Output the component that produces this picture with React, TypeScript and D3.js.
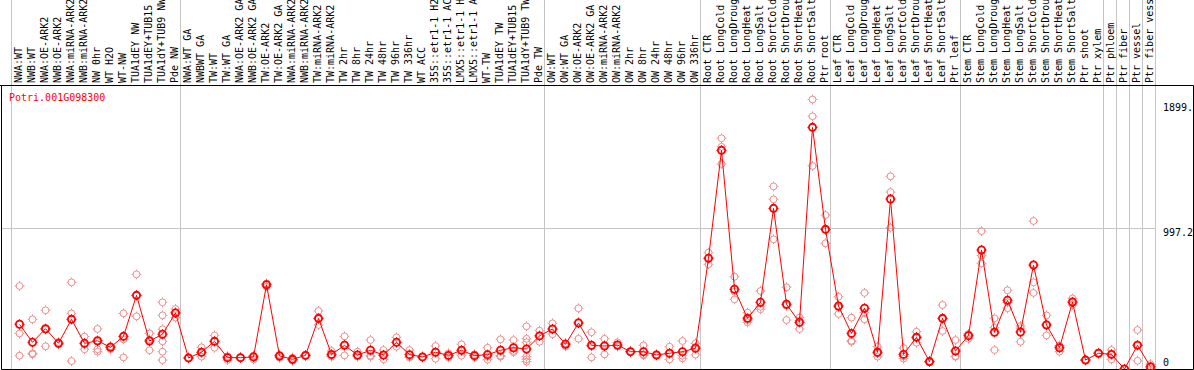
import React from "react";
import * as d3 from "d3";

const geneId = "Potri.001G098300";

// sample names, left to right (as far as they show in the header)
const samples = [
  "NWA:WT", "NWB:WT", "NWA:OE-ARK2", "NWB:OE-ARK2", "NWA:miRNA-ARK2", "NWB:miRNA-ARK2",
  "NW 0hr", "WT H2O", "WT-NW", "TUA1dEY NW", "TUA1dEY+TUB15", "TUA1dY+TUB9 NW", "Pde NW",
  "NWA:WT GA", "NWBWT GA", "TW:WT", "TW:WT GA", "NWA:OE-ARK2 GA", "NWB:OE-ARK2 GA",
  "TW:OE-ARK2", "TW:OE-ARK2 GA", "NWA:miRNA-ARK2", "NWB:miRNA-ARK2", "TW:miRNA-ARK2",
  "TW:miRNA-ARK2", "TW 2hr", "TW 8hr", "TW 24hr", "TW 48hr", "TW 96hr", "TW 336hr", "WT ACC",
  "35S::etr1-1 H2", "35S::etr1-1 AC", "LMX5::etr1-1 H", "LMX5::etr1-1 A", "WT-TW",
  "TUA1dEY TW", "TUA1dEY+TUB15", "TUA1dY+TUB9 TW", "Pde TW",
  "OW:WT", "OW:WT GA", "OW:OE-ARK2", "OW:OE-ARK2 GA", "OW:miRNA-ARK2", "OW:miRNA-ARK2",
  "OW 2hr", "OW 8hr", "OW 24hr", "OW 48hr", "OW 96hr", "OW 336hr",
  "Root CTR", "Root LongCold", "Root LongDroug", "Root LongHeat", "Root LongSalt",
  "Root ShortCold", "Root ShortDrou", "Root ShortHeat", "Root ShortSalt", "Ptr root",
  "Leaf CTR", "Leaf LongCold", "Leaf LongDroug", "Leaf LongHeat", "Leaf LongSalt",
  "Leaf ShortCold", "Leaf ShortDrou", "Leaf ShortHeat", "Leaf ShortSalt", "Ptr leaf",
  "Stem CTR", "Stem LongCold", "Stem LongDroug", "Stem LongHeat", "Stem LongSalt",
  "Stem ShortCold", "Stem ShortDrou", "Stem ShortHeat", "Stem ShortSalt", "Ptr shoot",
  "Ptr xylem", "Ptr phloem", "Ptr fiber", "Ptr vessel", "Ptr fiber vess",
];

// index of the first sample in each experiment block
const groupStarts = [0, 13, 41, 53, 63, 73, 84, 85, 86, 87];

// mean expression per sample
const means = [
  315, 188, 284, 181, 350, 181, 199, 153, 230, 519, 197, 245, 395,
  78, 118, 195, 80, 80, 85, 594, 92, 68, 96, 357, 103, 167, 99, 132, 99, 188, 101, 85, 118, 96,
  132, 94, 101, 132, 150, 141, 233,
  282, 174, 324, 167, 162, 169, 122, 122, 99, 111, 122, 146,
  780, 1541, 562, 357, 470, 1132, 456, 329, 1703, 984,
  444, 251, 428, 118, 1198, 103, 223, 52, 357, 127,
  235, 839, 259, 484, 261, 733, 310, 150, 472, 63, 111,
  103, 0, 167, 16,
];

// replicate values per sample
const replicates = [
  [585, 251, 94], [350, 111, 103], [414, 160, 278], [190, 175, 178], [611, 392, 56],
  [228, 139, 176], [282, 190, 139, 122], [160, 139, 160], [392, 209, 82], [667, 371, 519],
  [251, 132, 207], [470, 378, 280, 195, 122, 63], [423, 362, 400],
  [78, 75, 82], [153, 87, 115], [237, 150, 198], [63, 90, 85], [80, 78, 82], [68, 90, 95],
  [580, 600, 602], [100, 80, 95], [80, 58, 66], [96, 92, 100], [409, 310, 352], [127, 87, 95],
  [230, 96, 175], [122, 87, 90], [204, 94, 87], [134, 68, 95], [223, 157, 185], [134, 82, 88],
  [85, 82, 88], [162, 73, 119], [111, 82, 95], [174, 94, 128], [104, 82, 96], [150, 87, 66],
  [209, 94, 87], [204, 118, 128], [301, 213, 188, 87, 68, 52], [270, 192, 237],
  [322, 245, 279], [160, 180, 182], [428, 213, 331], [259, 82, 160], [213, 103, 170],
  [188, 160, 159], [122, 118, 126], [167, 96, 103], [99, 95, 103], [157, 68, 108],
  [197, 94, 75], [181, 101, 156],
  [820, 738, 782], [1626, 1566, 1445], [650, 491, 545], [397, 329, 345], [550, 421, 439],
  [1287, 1196, 914], [576, 345, 447], [362, 282, 343], [1899.4, 1781, 1431], [1085, 886, 981],
  [509, 388, 435], [362, 199, 192], [536, 350, 398], [157, 87, 110], [1358, 1247, 996],
  [148, 73, 88], [263, 185, 221], [52, 48, 56], [451, 268, 352], [204, 87, 90],
  [213, 245, 247], [972, 799, 745], [357, 291, 134], [555, 428, 469], [303, 192, 288],
  [1043, 611, 536], [378, 237, 315], [122, 165, 163], [498, 451, 467], [63, 60, 66],
  [111, 108, 114],
  [134, 68, 107], [0, 0, 0], [275, 58, 168], [35, 8, 5],
];

const font = "'DejaVu Sans Mono', monospace";

// little GD-style circle with four pixel spikes
const Marker = ({ cx, cy, r, color, sw }: { cx: number; cy: number; r: number; color: string; sw: number }) => (
  <g>
    <circle cx={cx} cy={cy} r={r} fill="none" stroke={color} strokeWidth={sw} />
    <path
      d={`M${cx},${cy - r - 1.5}V${cy - r}M${cx},${cy + r}V${cy + r + 1.5}M${cx - r - 1.5},${cy}H${cx - r}M${cx + r},${cy}H${cx + r + 1.5}`}
      stroke={color}
      strokeWidth={1}
    />
  </g>
);

export default function App() {
  const width = 1194;
  const height = 370;
  const headerBottom = 85;
  const plotTop = 86;
  const plotBottom = 369;

  const x = d3.scaleLinear().domain([0, 1]).range([19.5, 32.5]);
  const maxVal = d3.max(replicates.flat()) as number;
  const y = d3.scaleLinear().domain([0, maxVal * 1.05]).range([plotBottom, plotTop]);
  const plotRight = x(samples.length) - 8;
  const yTicks = [maxVal, y.domain()[1] / 2, 0];

  const line = d3
    .line<number>()
    .x((_, i) => x(i))
    .y((d) => y(d));

  const vLines = [...groupStarts, samples.length].map((s) => x(s) - 8);

  return (
    <svg
      width={width}
      height={height}
      style={{ position: "absolute", left: 0, top: 0, background: "#fff" }}
      fontFamily={font}
      fontSize={10}
    >
      <rect width={width} height={height} fill="#fff" />
      {/* grid */}
      {vLines.map((lx, i) => (
        <line key={i} x1={lx} x2={lx} y1={0} y2={plotBottom} stroke="#c4c4c4" />
      ))}
      <line
        x1={1}
        x2={plotRight}
        y1={Math.round(y(yTicks[1])) + 0.5}
        y2={Math.round(y(yTicks[1])) + 0.5}
        stroke="#c4c4c4"
      />
      {/* frame */}
      <path
        d={`M0,${headerBottom + 0.5}H${width - 0.5}V${plotBottom + 0.5}H1.5V${headerBottom + 0.5}`}
        fill="none"
        stroke="#000"
      />
      {/* sample names */}
      {samples.map((s, i) => (
        <text key={s + i} transform={`translate(${x(i) + 2.5},${headerBottom - 2}) rotate(-90)`} fill="#000">
          {s}
        </text>
      ))}
      <text x={9} y={100.5} fill="#ff0000">
        {geneId}
      </text>
      {/* y labels */}
      {yTicks.map((t, i) => (
        <text key={i} x={1163} y={Math.min(y(t) + (i === 0 ? 11.5 : 8.5), plotBottom - 3)} fill="#000">
          {t === 0 ? "0" : d3.format(".1f")(t)}
        </text>
      ))}
      {/* replicates */}
      {replicates.map((reps, i) =>
        reps.map((v, j) => <Marker key={`${i}-${j}`} cx={x(i)} cy={y(v)} r={3.4} color="#ec9090" sw={1} />)
      )}
      <path d={line(means) ?? ""} fill="none" stroke="#ff0000" strokeWidth={1} />
      {means.map((v, i) => (
        <Marker key={i} cx={x(i)} cy={y(v)} r={3.6} color="#ff0000" sw={1.8} />
      ))}
    </svg>
  );
}
